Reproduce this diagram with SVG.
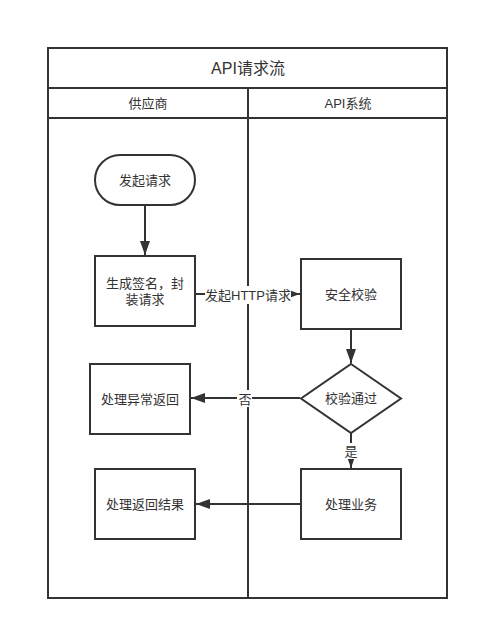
<svg xmlns="http://www.w3.org/2000/svg" width="479" height="631" viewBox="0 0 479 631">
<defs>
<style>
text{font-family:"Liberation Sans","Noto Sans CJK SC",sans-serif;fill:#333;text-anchor:middle;dominant-baseline:central;font-size:13px}
.t{font-size:16px}
.frame{fill:#fff;stroke:#333;stroke-width:2}
.node{fill:#fff;stroke:#333;stroke-width:2}
.edge{fill:none;stroke:#333;stroke-width:2}
.lbl{fill:#fff}
</style>
<marker id="arr" viewBox="0 0 14 10" refX="14" refY="5" markerWidth="14" markerHeight="10" markerUnits="userSpaceOnUse" orient="auto">
<path d="M0,0 L14,5 L0,10 Z" fill="#333"/>
</marker>
</defs>
<rect width="479" height="631" fill="#fff"/>
<g id="pool">
<rect class="frame" x="48" y="48" width="399" height="550"/>
<line class="edge" x1="48" y1="88" x2="447" y2="88"/>
<line class="edge" x1="48" y1="118" x2="447" y2="118"/>
<line class="edge" x1="248" y1="88" x2="248" y2="598"/>
<text class="t" x="248" y="68">API请求流</text>
<text x="148" y="103">供应商</text>
<text x="348" y="103">API系统</text>
</g>
<g id="connectors">
<line class="edge" x1="145" y1="206" x2="145" y2="255" marker-end="url(#arr)"/>
<line class="edge" x1="196" y1="294" x2="300" y2="294" marker-end="url(#arr)"/>
<rect class="lbl" x="205" y="286" width="86" height="18"/>
<text x="248" y="295">发起HTTP请求</text>
<line class="edge" x1="351" y1="330" x2="351" y2="363" marker-end="url(#arr)"/>
<line class="edge" x1="300" y1="398" x2="191" y2="398" marker-end="url(#arr)"/>
<rect class="lbl" x="237" y="390" width="15" height="17"/>
<text x="245" y="399">否</text>
<line class="edge" x1="351" y1="433" x2="351" y2="468" marker-end="url(#arr)"/>
<rect class="lbl" x="343" y="443" width="16" height="16"/>
<text x="351" y="451">是</text>
<line class="edge" x1="300" y1="504" x2="196" y2="504" marker-end="url(#arr)"/>
</g>
<g id="start">
<rect class="node" x="95" y="155" width="100" height="50" rx="25" ry="25"/>
<text x="145" y="180">发起请求</text>
</g>
<g id="sign">
<rect class="node" x="95" y="256" width="100" height="70"/>
<text x="145" y="283">生成签名，封</text>
<text x="145" y="299">装请求</text>
</g>
<g id="check">
<rect class="node" x="301" y="259" width="100" height="70"/>
<text x="351" y="294">安全校验</text>
</g>
<g id="decision">
<path class="node" d="M351,364 L401,398.5 L351,433 L301,398.5 Z"/>
<text x="351" y="398">校验通过</text>
</g>
<g id="error">
<rect class="node" x="90" y="364" width="100" height="70"/>
<text x="140" y="399">处理异常返回</text>
</g>
<g id="business">
<rect class="node" x="301" y="469" width="100" height="70"/>
<text x="351" y="504">处理业务</text>
</g>
<g id="result">
<rect class="node" x="95" y="469" width="100" height="70"/>
<text x="145" y="504">处理返回结果</text>
</g>
</svg>
